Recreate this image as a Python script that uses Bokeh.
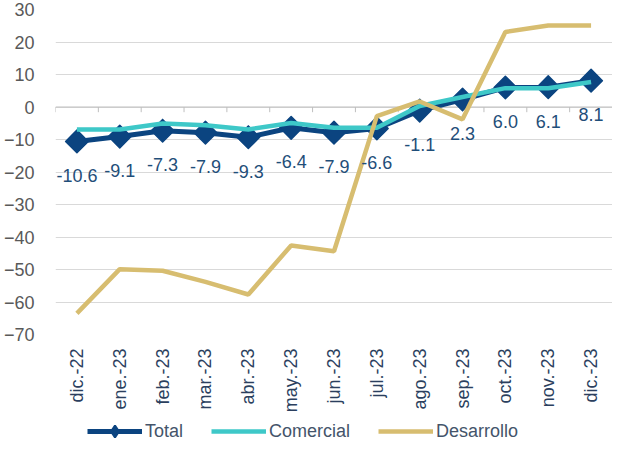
from math import pi
from bokeh.plotting import figure
from bokeh.layouts import column
from bokeh.models import Range1d, FixedTicker, Legend, LegendItem, ColumnDataSource
from bokeh.core.properties import value
from bokeh.embed import file_html
from bokeh.resources import INLINE

categories = ["dic.-22", "ene.-23", "feb.-23", "mar.-23", "abr.-23", "may.-23", "jun.-23",
              "jul.-23", "ago.-23", "sep.-23", "oct.-23", "nov.-23", "dic.-23"]
total = [-10.6, -9.1, -7.3, -7.9, -9.3, -6.4, -7.9, -6.6, -1.1, 2.3, 6.0, 6.1, 8.1]
comercial = [-6.9, -6.9, -5.1, -5.6, -6.9, -4.9, -6.4, -6.4, 0.3, 3.1, 5.8, 5.8, 7.7]
desarrollo = [-63.5, -49.9, -50.4, -53.8, -57.7, -42.6, -44.4, -2.8, 1.7, -3.8, 23.1, 25.1, 25.1]
y_ticks = [30, 20, 10, 0, -10, -20, -30, -40, -50, -60, -70]
series_names = ["Total", "Comercial", "Desarrollo"]

FONT = "Liberation Sans"
NAVY = "#0b4480"
TEAL = "#3ec8c8"
GOLD = "#d7bd70"

xs = list(range(len(categories)))
src = ColumnDataSource(dict(x=xs, total=total, comercial=comercial, desarrollo=desarrollo,
                            lab=[f"{v:.1f}" for v in total]))

p = figure(width=612, height=416, output_backend="svg", toolbar_location=None,
           x_range=Range1d(-0.5, len(categories) - 0.5),
           y_range=Range1d(min(y_ticks), max(y_ticks)),
           min_border_left=47, min_border_right=0, min_border_top=9, min_border_bottom=82)
p.outline_line_color = None
p.background_fill_color = "white"
p.border_fill_color = "white"

# grid
p.xgrid.grid_line_color = None
p.ygrid.grid_line_color = "#d9d9d9"
p.ygrid.grid_line_width = 1
p.ygrid.ticker = FixedTicker(ticks=y_ticks)

# y axis
p.yaxis.ticker = FixedTicker(ticks=y_ticks)
p.yaxis.axis_line_color = None
p.yaxis.major_tick_line_color = None
p.yaxis.minor_tick_line_color = None
p.yaxis.major_label_text_font = FONT
p.yaxis.major_label_text_font_size = "18px"
p.yaxis.major_label_text_color = "#595959"
p.yaxis.major_label_standoff = 15

# x axis
p.xaxis.ticker = FixedTicker(ticks=xs)
p.xaxis.major_label_overrides = {i: c for i, c in zip(xs, categories)}
p.xaxis.axis_line_color = None
p.xaxis.major_tick_line_color = None
p.xaxis.minor_tick_line_color = None
p.xaxis.major_label_orientation = pi / 2
p.xaxis.major_label_text_font = FONT
p.xaxis.major_label_text_font_size = "18px"
p.xaxis.major_label_text_color = "#2b3f5e"
p.xaxis.major_label_standoff = 8

# zero line with category-boundary ticks
bounds = [i - 0.5 for i in range(len(categories) + 1)]
p.segment(x0=[bounds[0]], y0=[0], x1=[bounds[-1]], y1=[0], line_color="#bfbfbf", line_width=1)
p.segment(x0=bounds, y0=[0] * len(bounds), x1=bounds, y1=[-1.6] * len(bounds),
          line_color="#bfbfbf", line_width=1)

# series
p.line("x", "total", source=src, line_color=NAVY, line_width=5)
p.scatter("x", "total", source=src, marker="square", angle=pi / 4, size=16,
          fill_color=NAVY, line_color=NAVY, line_join="round", line_width=1.5)
p.line("x", "comercial", source=src, line_color=TEAL, line_width=4.5)
p.line("x", "desarrollo", source=src, line_color=GOLD, line_width=4.5)

p.text("x", "total", text="lab", source=src, text_align="center", text_baseline="middle",
       y_offset=34, text_font=value(FONT), text_font_size="18px", text_color="#1f4e79")

# legend strip below the chart (legend-only renderers hold no drawable data)
NAN = float("nan")
lg = figure(width=612, height=30, output_backend="svg", toolbar_location=None,
            x_range=Range1d(0, 1), y_range=Range1d(0, 1),
            min_border_left=0, min_border_right=0, min_border_top=0, min_border_bottom=0)
lg.axis.visible = False
lg.grid.visible = False
lg.outline_line_color = None
lg.border_fill_color = "white"
l_tl = lg.line(x=[NAN], y=[NAN], line_color=NAVY, line_width=5)
l_tm = lg.scatter(x=[NAN], y=[NAN], marker="diamond", size=16,
                  fill_color=NAVY, line_color=NAVY, line_width=2)
l_c = lg.line(x=[NAN], y=[NAN], line_color=TEAL, line_width=4.5)
l_d = lg.line(x=[NAN], y=[NAN], line_color=GOLD, line_width=4.5)

legend = Legend(items=[LegendItem(label=series_names[0], renderers=[l_tl, l_tm]),
                       LegendItem(label=series_names[1], renderers=[l_c]),
                       LegendItem(label=series_names[2], renderers=[l_d])],
                location=(32, 0), orientation="horizontal",
                glyph_width=55, glyph_height=30, label_standoff=3, spacing=28, padding=0,
                margin=0, border_line_color=None, background_fill_alpha=0,
                label_text_font=FONT, label_text_font_size="18px", label_text_color="#44546a")
lg.add_layout(legend, "center")

layout = column(p, lg, spacing=0)
open("out.html", "w").write(file_html(layout, INLINE))
